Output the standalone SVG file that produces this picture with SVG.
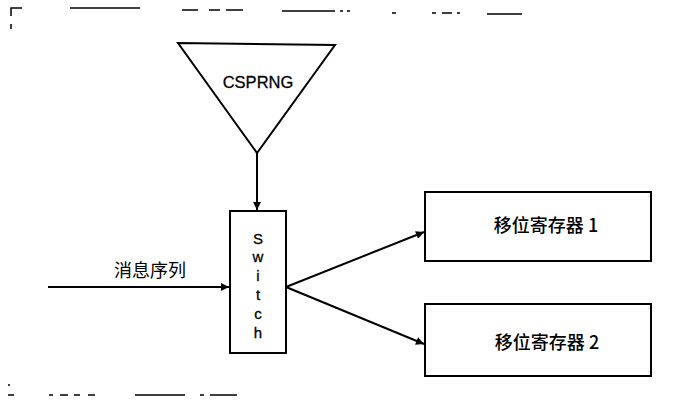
<svg xmlns="http://www.w3.org/2000/svg" width="683" height="407" viewBox="0 0 683 407">
<defs>
<marker id="ah" viewBox="0 0 10 10" refX="10" refY="5" markerWidth="10" markerHeight="8" markerUnits="userSpaceOnUse" orient="auto">
<path d="M0,0 L10,5 L0,10 z" fill="#000"/>
</marker>
</defs>
<style>
.ln{stroke:#000;stroke-width:2;fill:none}
.box{stroke:#000;stroke-width:2;fill:#fff}
.frm{stroke:#000;stroke-width:1.5;fill:none}
.en{font-family:"Liberation Sans",Arial,sans-serif;fill:#000;stroke:#000;stroke-width:0.3}
.cn{font-family:"Noto Sans CJK SC","Noto Sans CJK TC",sans-serif;fill:#000;font-weight:500}
.lbl{font-family:"Noto Sans CJK SC","Noto Sans CJK TC",sans-serif;fill:#000;font-weight:400}
</style>
<rect width="683" height="407" fill="#fff"/>
<g id="frame">
<path class="frm" d="M11,16 V8 H22 M11,24 V29 M70,8 H140 M182,10 H198 M209,10 H220 M226,10 H243 M282,11 H335 M340,11 H343 M347,11 H350 M392,13 H396 M432,13 H436 M442,13 H452 M457,13 H460 M487,14 H522 M9,384 V386 M8,395 H14 M49,395 H53 M60,395 H68 M74,395 H80 M88,395 H95 M135,395 H185 M200,395 H204 M210,395 H237"/>
</g>
<g id="csprng">
<path class="box" d="M178,43 L335,45 L257,153 Z"/>
<text class="en" x="258" y="88" font-size="16.5" text-anchor="middle">CSPRNG</text>
</g>
<g id="switch">
<rect class="box" x="230" y="211" width="56" height="142"/>
<g class="en" font-size="15" text-anchor="middle">
<text x="258" y="244">S</text>
<text x="258" y="262">w</text>
<text x="258" y="281">i</text>
<text x="258" y="300">t</text>
<text x="258" y="319">c</text>
<text x="258" y="338">h</text>
</g>
</g>
<g id="reg1">
<rect class="box" x="425" y="192" width="226" height="69"/>
<text class="cn" x="546" y="232" font-size="18" text-anchor="middle">移位寄存器 1</text>
</g>
<g id="reg2">
<rect class="box" x="425" y="304" width="226" height="72"/>
<text class="cn" x="547" y="349" font-size="18" text-anchor="middle">移位寄存器 2</text>
</g>
<g id="connectors">
<line class="ln" x1="257" y1="153" x2="257" y2="210" marker-end="url(#ah)"/>
<line class="ln" x1="48" y1="287" x2="229" y2="287" marker-end="url(#ah)"/>
<line class="ln" x1="286" y1="287" x2="424" y2="232" marker-end="url(#ah)"/>
<line class="ln" x1="286" y1="287" x2="424" y2="344" marker-end="url(#ah)"/>
<text class="lbl" x="150" y="277" font-size="18" text-anchor="middle">消息序列</text>
</g>
</svg>
